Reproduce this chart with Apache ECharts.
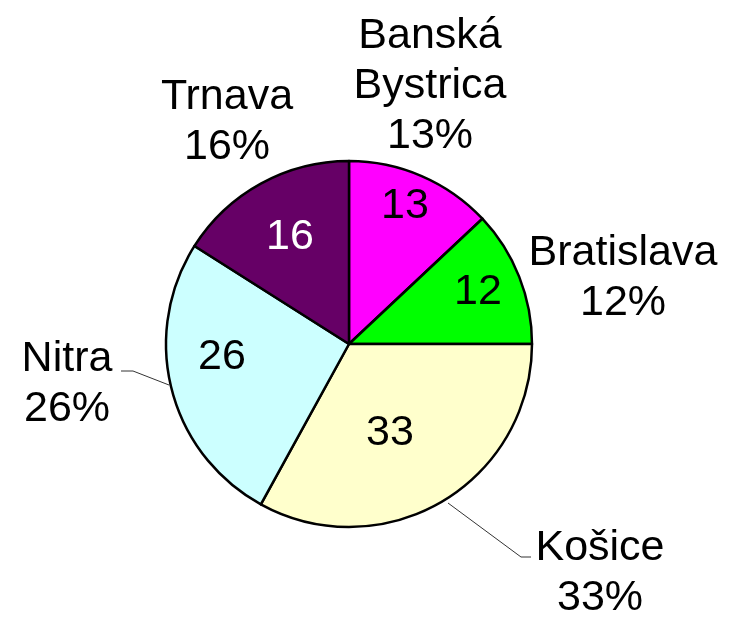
<!DOCTYPE html>
<html><head><meta charset="utf-8">
<script src="https://cdn.jsdelivr.net/npm/echarts@6/dist/echarts.min.js"></script>
<style>html,body{margin:0;padding:0;background:#fff}#c{width:740px;height:627px}</style>
</head><body><div id="c"></div>
<script>
const categories = ['Banská Bystrica', 'Bratislava', 'Košice', 'Nitra', 'Trnava'];
const outerNames = ['Banská\nBystrica', 'Bratislava', 'Košice', 'Nitra', 'Trnava'];
const values = [13, 12, 33, 26, 16];
const colors = ['#FF00FF', '#00FF00', '#FFFFCC', '#CCFFFF', '#660066'];
const innerTextColors = ['#000', '#000', '#000', '#000', '#fff'];
const showLine = [false, false, true, true, false];

// label placement (styling, not data)
const outerPos = [[430, 86], [623, 278], [600, 573], [67, 384], [227, 122]];
const outerLines = [null, null, [[448, 503], [521, 557], [531, 557]], [[169, 385], [133, 371], [121, 371]], null];
const innerPos = [[405, 206], [478, 292], [390, 433], [222, 357], [290, 237]];

const total = values.reduce((a, b) => a + b, 0);
const font = '"Liberation Sans", Arial, sans-serif';

const chart = echarts.init(document.getElementById('c'));
chart.setOption({
  animation: false,
  series: [
    {
      type: 'pie',
      center: [349, 344],
      radius: 183,
      startAngle: 90,
      clockwise: true,
      avoidLabelOverlap: false,
      itemStyle: { borderColor: '#000', borderWidth: 2.5 },
      label: {
        show: true, position: 'outside', color: '#000',
        fontFamily: font, fontSize: 43, lineHeight: 50, align: 'center',
        formatter: p => outerNames[p.dataIndex] + '\n' + Math.round(p.value / total * 100) + '%'
      },
      labelLine: { show: true, lineStyle: { color: '#333', width: 1 } },
      labelLayout: p => {
        const i = p.dataIndex;
        const r = { x: outerPos[i][0], y: outerPos[i][1], align: 'center', verticalAlign: 'middle' };
        if (outerLines[i]) r.labelLinePoints = outerLines[i];
        return r;
      },
      emphasis: { disabled: true },
      data: categories.map((c, i) => ({
        name: c, value: values[i],
        itemStyle: { color: colors[i] },
        labelLine: { show: showLine[i] }
      }))
    },
    {
      type: 'pie',
      center: [349, 344],
      radius: 183,
      startAngle: 90,
      clockwise: true,
      silent: true,
      avoidLabelOverlap: false,
      itemStyle: { color: 'rgba(0,0,0,0)', borderWidth: 0 },
      label: {
        show: true, position: 'inside',
        fontFamily: font, fontSize: 43,
        formatter: p => String(p.value)
      },
      labelLine: { show: false },
      labelLayout: p => ({ x: innerPos[p.dataIndex][0], y: innerPos[p.dataIndex][1], align: 'center', verticalAlign: 'middle' }),
      emphasis: { disabled: true },
      data: categories.map((c, i) => ({
        name: c, value: values[i],
        label: { color: innerTextColors[i] }
      }))
    }
  ]
});
</script></body></html>
